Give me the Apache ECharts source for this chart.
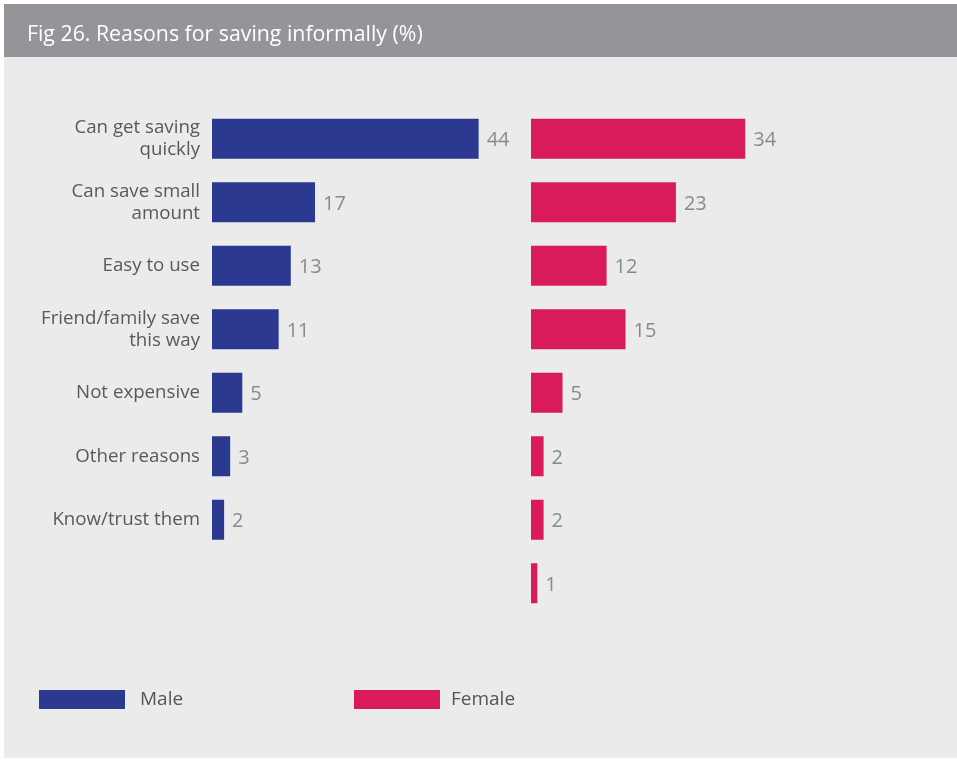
<!DOCTYPE html>
<html>
<head>
<meta charset="utf-8">
<script src="https://cdn.jsdelivr.net/npm/echarts@6/dist/echarts.min.js"></script>
<style>html,body{margin:0;padding:0;background:#fff}#c{width:957px;height:761px}</style>
</head>
<body>
<div id="c"></div>
<script>
var categories = ["Can get saving\nquickly", "Can save small\namount", "Easy to use", "Friend/family save\nthis way", "Not expensive", "Other reasons", "Know/trust them", ""];
var maleValues = [44, 17, 13, 11, 5, 3, 2, null];
var femaleValues = [34, 23, 12, 15, 5, 2, 2, 1];
var seriesNames = ["Male", "Female"];
var titleText = "Fig 26. Reasons for saving informally (%)";

var FONT = "'Open Sans', 'Noto Sans', sans-serif";
var chart = echarts.init(document.getElementById('c'), null, {renderer: 'canvas'});
var labelStyle = {show: true, position: 'right', distance: 8, offset: [0, 2], color: '#8a8a8a', fontSize: 20, fontFamily: FONT};
var option = {
  backgroundColor: '#ffffff',
  animation: false,
  graphic: [
    {type: 'rect', shape: {x: 4, y: 4, width: 953, height: 754}, style: {fill: '#ebebeb'}, z: -10},
    {type: 'rect', shape: {x: 4, y: 4, width: 953, height: 53}, style: {fill: '#939598'}, z: -9}
  ],
  title: {text: titleText, left: 22, top: 19, textStyle: {color: '#ffffff', fontSize: 21.3, fontWeight: 'normal', fontFamily: FONT}},
  legend: [
    {data: [seriesNames[0]], left: 34, top: 685, itemWidth: 86, itemHeight: 19, itemGap: 0, icon: 'rect',
     textStyle: {color: '#555555', fontSize: 19, fontFamily: FONT, padding: [3, 0, 0, 10]}},
    {data: [seriesNames[1]], left: 349, top: 685, itemWidth: 86, itemHeight: 19, itemGap: 0, icon: 'rect',
     textStyle: {color: '#555555', fontSize: 19, fontFamily: FONT, padding: [3, 0, 0, 6]}}
  ],
  grid: [
    {left: 212, top: 107, width: 303, height: 508},
    {left: 531, top: 107, width: 252, height: 508}
  ],
  xAxis: [
    {gridIndex: 0, type: 'value', min: 0, max: 50, show: false},
    {gridIndex: 1, type: 'value', min: 0, max: 40, show: false}
  ],
  yAxis: [
    {gridIndex: 0, type: 'category', inverse: true, data: categories,
     axisLine: {show: false}, axisTick: {show: false}, splitLine: {show: false},
     axisLabel: {color: '#595959', fontSize: 18.7, lineHeight: 22, fontFamily: FONT, margin: 12, align: 'right', padding: [4, 0, 0, 0]}},
    {gridIndex: 1, type: 'category', inverse: true, data: categories, show: false}
  ],
  series: [
    {name: seriesNames[0], type: 'bar', xAxisIndex: 0, yAxisIndex: 0, data: maleValues, barWidth: 40,
     itemStyle: {color: '#2b3990'}, label: labelStyle},
    {name: seriesNames[1], type: 'bar', xAxisIndex: 1, yAxisIndex: 1, data: femaleValues, barWidth: 40,
     itemStyle: {color: '#da1b5b'}, label: labelStyle}
  ]
};
chart.setOption(option);
</script>
</body>
</html>
